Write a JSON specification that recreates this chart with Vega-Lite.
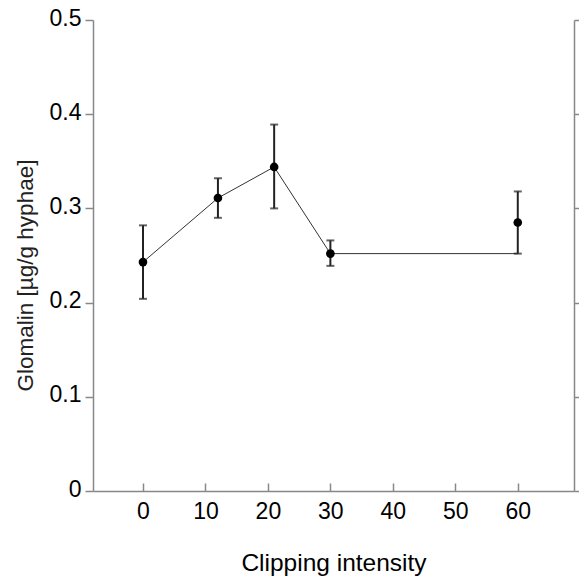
{
  "$schema": "https://vega.github.io/schema/vega-lite/v6.json",
  "width": 481,
  "height": 471,
  "autosize": "none",
  "padding": {"left": 93, "top": 20, "right": 5, "bottom": 86},
  "background": "white",
  "view": {"stroke": null},
  "config": {"font": "Liberation Sans"},
  "data": {"values": [
    {"x": 0, "y": 0.243, "lo": 0.204, "hi": 0.282, "lineY": 0.243},
    {"x": 12, "y": 0.311, "lo": 0.290, "hi": 0.332, "lineY": 0.311},
    {"x": 21, "y": 0.344, "lo": 0.300, "hi": 0.389, "lineY": 0.344},
    {"x": 30, "y": 0.252, "lo": 0.239, "hi": 0.266, "lineY": 0.252},
    {"x": 60, "y": 0.285, "lo": 0.252, "hi": 0.318, "lineY": 0.252}
  ]},
  "encoding": {
    "x": {
      "field": "x", "type": "quantitative",
      "scale": {"domain": [-8, 69], "nice": false, "zero": false},
      "axis": {
        "title": "Clipping intensity",
        "values": [0, 10, 20, 30, 40, 50, 60],
        "grid": false,
        "domainColor": "#888", "domainWidth": 1.5,
        "tickColor": "#888", "tickWidth": 1.5, "tickSize": -8,
        "labelFont": "Liberation Sans", "labelFontSize": 23, "labelColor": "black",
        "labelBaseline": "alphabetic", "labelPadding": 35,
        "titleFont": "Liberation Sans", "titleFontSize": 24.5, "titleFontWeight": "normal", "titleColor": "black",
        "titleBaseline": "alphabetic", "titleY": 79
      }
    }
  },
  "layer": [
    {
      "mark": {"type": "line", "color": "#333", "strokeWidth": 1},
      "encoding": {
        "y": {
          "field": "lineY", "type": "quantitative",
          "scale": {"domain": [0, 0.5], "nice": false},
          "axis": {
            "orient": "left",
            "title": "Glomalin [µg/g hyphae]",
            "values": [0, 0.1, 0.2, 0.3, 0.4, 0.5],
            "format": ".1~f",
            "grid": false,
            "domainColor": "#888", "domainWidth": 1.5,
            "tickColor": "#888", "tickWidth": 1.5, "tickSize": 8,
            "labelFont": "Liberation Sans", "labelFontSize": 23, "labelColor": "black",
            "labelPadding": 4, "labelBaseline": "alphabetic", "labelOffset": 5,
            "titleFont": "Liberation Sans", "titleFontSize": 22.5, "titleFontWeight": "normal", "titleColor": "#222",
            "titleBaseline": "alphabetic", "titleAngle": -90, "titleX": -61, "titleY": 255, "titleAlign": "center"
          }
        }
      }
    },
    {
      "mark": {"type": "errorbar", "color": "#222", "thickness": 2, "ticks": {"size": 8}},
      "encoding": {
        "y": {
          "field": "lo", "type": "quantitative",
          "axis": {
            "orient": "right", "title": null, "labels": false, "grid": false,
            "values": [0, 0.1, 0.2, 0.3, 0.4, 0.5],
            "domainColor": "#888", "domainWidth": 1.5,
            "tickColor": "#888", "tickWidth": 1.5, "tickSize": 5
          }
        },
        "y2": {"field": "hi"}
      }
    },
    {
      "mark": {"type": "point", "filled": true, "color": "black", "size": 75, "opacity": 1},
      "encoding": {
        "y": {"field": "y", "type": "quantitative", "axis": null}
      }
    }
  ],
  "resolve": {"axis": {"y": "independent"}}
}
